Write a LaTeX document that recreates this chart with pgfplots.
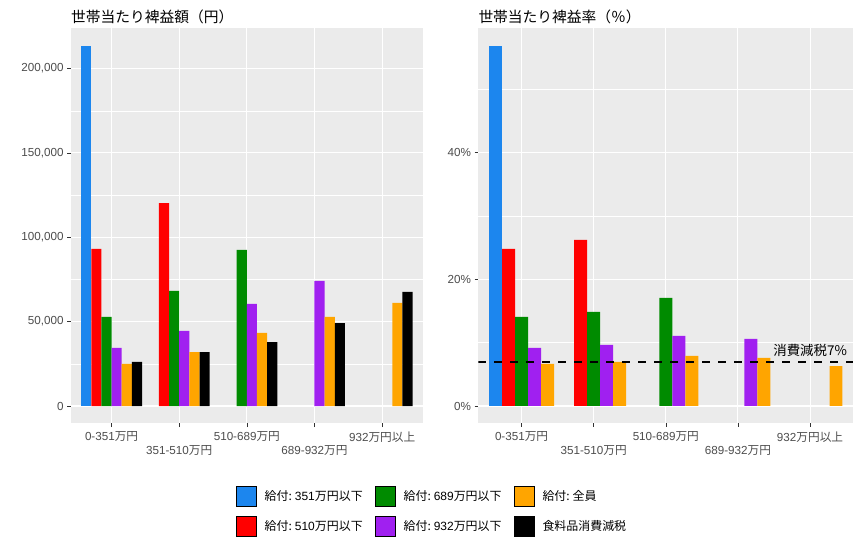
\documentclass[border=0pt]{standalone}
\usepackage{fontspec}
\setmainfont{Liberation Sans}
\newfontfamily\jp{Noto Sans CJK JP}
\usepackage{pgfplots}
\pgfplotsset{compat=1.18}
\definecolor{panelbg}{HTML}{EBEBEB}
\definecolor{tickc}{HTML}{333333}
\definecolor{labelc}{HTML}{4D4D4D}
\definecolor{cblue}{HTML}{1C86EE}
\definecolor{cred}{HTML}{FF0000}
\definecolor{cgreen}{HTML}{008B00}
\definecolor{cpurple}{HTML}{A020F0}
\definecolor{corange}{HTML}{FFA500}
\definecolor{cblack}{HTML}{000000}
\newcommand{\kyufu}{{\jp 給付:}\kern3bp}
\pgfplotsset{
  ggbase/.style={
    scale only axis, anchor=south west, height=395bp,
    xmin=0.4, xmax=5.6,
    axis background/.style={fill=panelbg},
    axis line style={draw=none},
    xtick pos=bottom, ytick pos=left,
    tick align=outside, major tick length=3.7bp, minor tick length=0bp,
    tick style={color=tickc, line width=0.55bp},
    grid=both,
    major grid style={white, line width=1.07bp},
    minor grid style={white, line width=0.53bp},
    ticklabel style={font=\fontsize{11.7}{13}\selectfont, color=labelc},
    /pgf/number format/assume math mode=true,
    xtick={1,3,5},
    xticklabels={0-351{\jp 万円}, 510-689{\jp 万円}, 932{\jp 万円以上}},
    extra x ticks={2,4},
    extra x tick labels={351-510{\jp 万円}, 689-932{\jp 万円}},
    extra x tick style={grid=major, xticklabel style={yshift=-13.5bp}},
    xticklabel style={inner sep=0bp, yshift=-4.5bp},
    yticklabel style={inner sep=0bp, xshift=-3.5bp},
    title style={at={(0,1)}, anchor=base west, inner sep=0bp, yshift=0bp,
      font=\fontsize{14.8}{16}\selectfont\jp},
  },
  bars/.style={ybar, draw=none, forget plot},
  legkey/.style={legend image code/.code={\fill[##1] (0bp,-10bp) rectangle (20bp,10bp);}},
}
\begin{document}
\begin{tikzpicture}
\path[use as bounding box, fill=white] (0,0) rectangle (862bp,546bp);
% ---------------- left panel ----------------
\begin{axis}[ggbase,
  at={(71bp,122.7bp)}, width=351.7bp,
  ymin=-10255, ymax=223900,
  ytick={0,50000,100000,150000,200000},
  minor ytick={25000,75000,125000,175000},
  scaled y ticks=false,
  yticklabel style={/pgf/number format/fixed, /pgf/number format/precision=0, /pgf/number format/1000 sep={,}},
  title={世帯当たり裨益額（円）},
  legend columns=3,
  legend cell align=left,
  legend style={at={(axis description cs:1.0236,-0.222)}, anchor=center,
    draw=none, fill=none, font=\fontsize{12}{14}\selectfont,
    nodes={inner sep=0bp}, row sep=10bp,
    /tikz/every odd column/.append style={column sep=8.5bp},
    /tikz/every even column/.append style={column sep=12bp}},
]
\addplot[bars, bar width=0.15, bar shift=-0.375, fill=cblue] coordinates {(1,213400)};
\addplot[bars, bar width=0.15, bar shift=-0.225, fill=cred] coordinates {(1,93100) (2,120300)};
\addplot[bars, bar width=0.15, bar shift=-0.075, fill=cgreen] coordinates {(1,52800) (2,68200) (3,92500)};
\addplot[bars, bar width=0.15, bar shift=0.075, fill=cpurple] coordinates {(1,34400) (2,44500) (3,60500) (4,74100)};
\addplot[bars, bar width=0.15, bar shift=0.225, fill=corange] coordinates {(1,24900) (2,32000) (3,43300) (4,52800) (5,61100)};
\addplot[bars, bar width=0.15, bar shift=0.375, fill=cblack] coordinates {(1,26100) (2,32000) (3,37900) (4,49200) (5,67600)};
\addlegendimage{legkey, fill=cblue}
\addlegendentry{\kyufu 351{\jp 万円以下}}
\addlegendimage{legkey, fill=cgreen}
\addlegendentry{\kyufu 689{\jp 万円以下}}
\addlegendimage{legkey, fill=corange}
\addlegendentry{\kyufu{\jp 全員}}
\addlegendimage{legkey, fill=cred}
\addlegendentry{\kyufu 510{\jp 万円以下}}
\addlegendimage{legkey, fill=cpurple}
\addlegendentry{\kyufu 932{\jp 万円以下}}
\addlegendimage{legkey, fill=cblack}
\addlegendentry{{\jp 食料品消費減税}}
\end{axis}
% ---------------- right panel ----------------
\begin{axis}[ggbase,
  at={(478.3bp,122.7bp)}, width=375bp,
  ymin=-2.73, ymax=59.6,
  ytick={0,20,40},
  minor ytick={10,30,50},
  yticklabel={\pgfmathprintnumber{\tick}\%},
  title={世帯当たり裨益率（％）},
]
\addplot[bars, bar width=0.18, bar shift=-0.36, fill=cblue] coordinates {(1,56.8)};
\addplot[bars, bar width=0.18, bar shift=-0.18, fill=cred] coordinates {(1,24.8) (2,26.2)};
\addplot[bars, bar width=0.18, bar shift=0, fill=cgreen] coordinates {(1,14.05) (2,14.84) (3,17.05)};
\addplot[bars, bar width=0.18, bar shift=0.18, fill=cpurple] coordinates {(1,9.16) (2,9.63) (3,11.05) (4,10.58)};
\addplot[bars, bar width=0.18, bar shift=0.36, fill=corange] coordinates {(1,6.63) (2,6.95) (3,7.89) (4,7.58) (5,6.31)};
\addplot[black, line width=2bp, dash pattern=on 8bp off 8bp, forget plot] coordinates {(0.4,7) (5.6,7)};
\node[anchor=base east, inner sep=0bp, yshift=6bp, font=\fontsize{13.5}{15}\selectfont\jp] at (axis cs:5.515,7) {消費減税7\%};
\end{axis}
\end{tikzpicture}
\end{document}
